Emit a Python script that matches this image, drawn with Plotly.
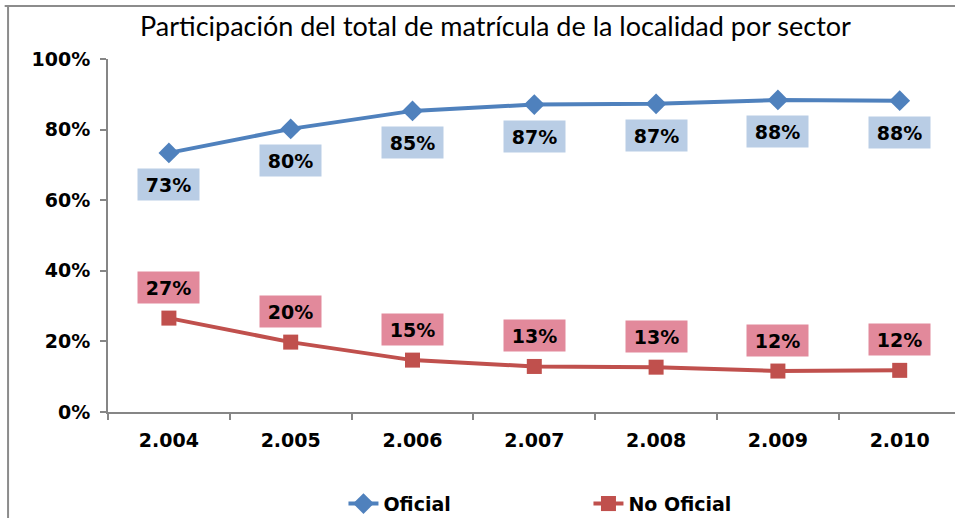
import plotly.graph_objects as go

years = ["2.004", "2.005", "2.006", "2.007", "2.008", "2.009", "2.010"]
oficial = [73.4, 80.2, 85.3, 87.1, 87.3, 88.4, 88.2]
no_oficial = [26.6, 19.8, 14.7, 12.9, 12.7, 11.6, 11.8]
oficial_labels = ["73%", "80%", "85%", "87%", "87%", "88%", "88%"]
no_oficial_labels = ["27%", "20%", "15%", "13%", "13%", "12%", "12%"]
y_ticks = [0, 20, 40, 60, 80, 100]
y_tick_labels = ["0%", "20%", "40%", "60%", "80%", "100%"]

FONT = "DejaVu Sans"
TFONT = "Lato"
BLUE = "#4F81BD"
RED = "#C0504D"

fig = go.Figure()
fig.add_trace(go.Scatter(
    x=years, y=oficial, name="Oficial", mode="lines+markers",
    line=dict(color=BLUE, width=4), marker=dict(symbol="diamond", size=16, color=BLUE),
))
fig.add_trace(go.Scatter(
    x=years, y=no_oficial, name="No Oficial", mode="lines+markers",
    line=dict(color=RED, width=4), marker=dict(symbol="square", size=15, color=RED),
))

annotations = []
for i, (v, t) in enumerate(zip(oficial, oficial_labels)):
    annotations.append(dict(x=i, y=v, xref="x", yref="y", text=t, showarrow=False,
                            yshift=-31.5, bgcolor="#B9CDE5", borderpad=4, width=53, height=23,
                            font=dict(family=FONT, size=19, color="black", weight="bold")))
for i, (v, t) in enumerate(zip(no_oficial, no_oficial_labels)):
    annotations.append(dict(x=i, y=v, xref="x", yref="y", text=t, showarrow=False,
                            yshift=31, bgcolor="#E2899B", borderpad=4, width=53, height=23,
                            font=dict(family=FONT, size=19, color="black", weight="bold")))
annotations.append(dict(x=0.458, y=1.096, xref="paper", yref="paper", xanchor="center", yanchor="middle",
                        showarrow=False,
                        text="Participación del total de matrícula de la localidad por sector",
                        font=dict(family=TFONT, size=27, color="black")))

fig.update_layout(
    width=955, height=518,
    margin=dict(l=108, r=0, t=59, b=106, autoexpand=False),
    paper_bgcolor="white", plot_bgcolor="white",
    font=dict(family=FONT, size=19, color="black"),
    showlegend=True,
    legend=dict(orientation="h", x=0.278, xanchor="left", y=-0.206, yanchor="top",
                font=dict(family=FONT, size=19, color="black", weight="bold"),
                entrywidth=200, tracegroupgap=0),
    annotations=annotations,
    shapes=[
        dict(type="line", xref="paper", yref="paper", x0=-0.122, x1=1.0, y0=1.150, y1=1.150,
             line=dict(color="#8C8C8C", width=2)),
        dict(type="line", xref="paper", yref="paper", x0=-0.118, x1=-0.118, y0=-0.3, y1=1.150,
             line=dict(color="#8C8C8C", width=2)),
    ],
)
fig.update_xaxes(
    type="category", range=[-0.5, 6.454],
    showgrid=False, zeroline=False, showline=True, linecolor="#868686", linewidth=2,
    ticks="outside", tickson="boundaries", ticklen=6, tickcolor="#868686", tickwidth=2,
    ticklabelstandoff=10,
    tickfont=dict(family=FONT, size=19, color="black", weight="bold"),
)
fig.update_yaxes(
    range=[0, 100], tickvals=y_ticks, ticktext=y_tick_labels,
    showgrid=False, zeroline=False, showline=True, linecolor="#868686", linewidth=2,
    ticks="outside", ticklen=6, tickcolor="#868686", tickwidth=2,
    ticklabelstandoff=6,
    tickfont=dict(family=FONT, size=19, color="black", weight="bold"),
)

fig.write_html(
    "out.html",
    config={"displayModeBar": False},
    post_script="document.body.style.margin='0';document.body.style.overflow='hidden';",
)
